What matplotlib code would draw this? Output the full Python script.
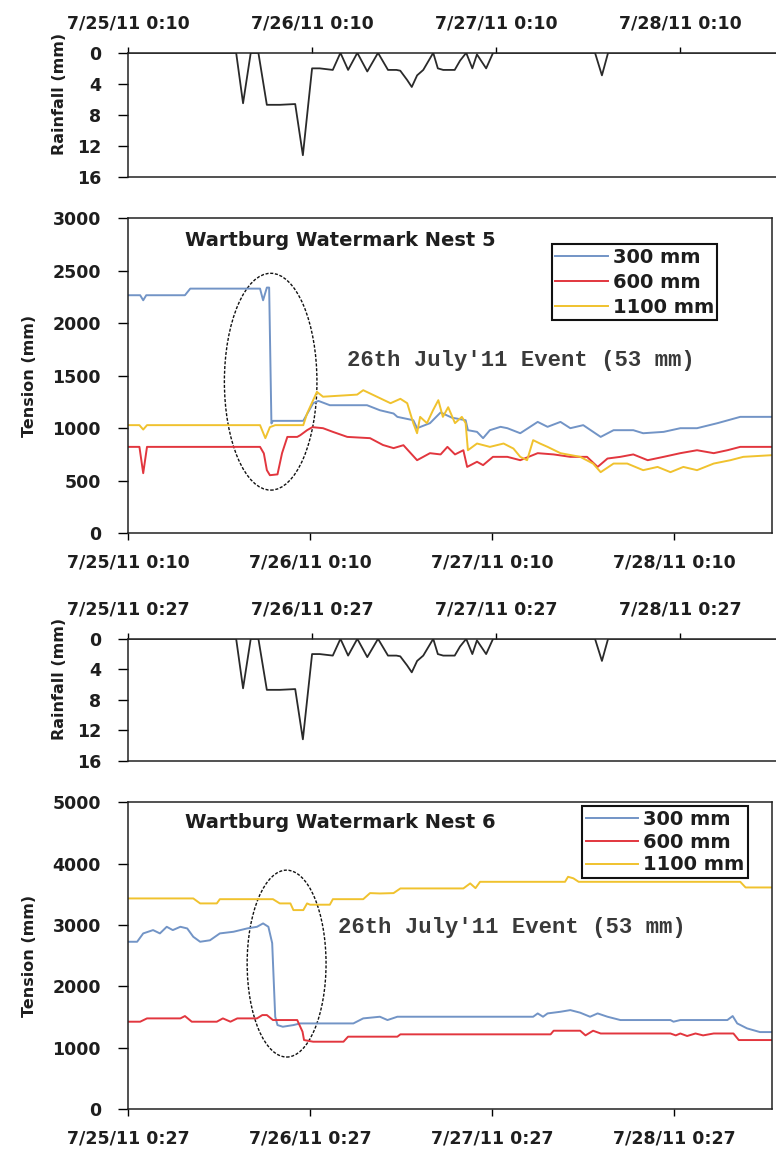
import matplotlib
matplotlib.use("Agg")
import matplotlib.pyplot as plt
from matplotlib.patches import Ellipse

# ---------------- data ----------------
# time axis: hours after the first logged reading of each nest
day_ticks = [0, 24, 48, 72]
labels_n5 = ["7/25/11 0:10", "7/26/11 0:10", "7/27/11 0:10", "7/28/11 0:10"]
labels_n6 = ["7/25/11 0:27", "7/26/11 0:27", "7/27/11 0:27", "7/28/11 0:27"]

# rainfall (mm), plotted downward
rain_t = [0.0, 14.1, 15.0, 16.0, 17.0, 18.1, 19.8, 21.8, 22.8, 24.0, 25.0, 26.7,
          27.7, 28.7, 29.9, 31.2, 32.6, 33.9, 35.0, 35.5, 36.4, 37.0, 37.7, 38.5,
          39.8, 40.4, 41.1, 42.6, 43.3, 44.1, 44.9, 45.5, 46.7, 47.6, 60.9, 61.8,
          62.6, 84.5]
rain_mm = [0, 0, 6.5, 0, 0, 6.7, 6.7, 6.6, 13.2, 2.0, 2.0, 2.2,
           0, 2.2, 0, 2.4, 0, 2.2, 2.2, 2.3, 3.5, 4.4, 2.9, 2.2,
           0, 2.0, 2.2, 2.2, 1.0, 0, 2.0, 0.2, 2.0, 0, 0, 2.9,
           0, 0]

# Nest 5 tension (mm)
n5_300_t = [0.0, 1.6, 2.0, 2.4, 7.5, 8.2, 17.4, 17.8, 18.3, 18.6, 18.9, 19.1, 23.1,
            24.4, 25.1, 26.6, 31.5, 33.2, 35.0, 35.5, 37.6, 38.1, 39.8, 41.2, 42.7,
            44.5, 44.8, 46.0, 46.8, 47.7, 49.1, 50.0, 51.7, 54.0, 55.3, 57.0, 58.3,
            60.0, 62.3, 64.0, 66.6, 67.9, 70.6, 72.8, 75.0, 77.7, 80.7, 84.9]
n5_300_v = [2267, 2267, 2219, 2267, 2267, 2330, 2330, 2219, 2340, 2340, 1045, 1070, 1070,
            1238, 1260, 1219, 1219, 1171, 1140, 1108, 1076, 1000, 1048, 1150, 1100,
            1076, 981, 965, 905, 981, 1013, 1000, 952, 1060, 1013, 1060, 1000,
            1029, 917, 981, 981, 952, 965, 1000, 1000, 1048, 1108, 1108]

n5_600_t = [0.0, 1.5, 2.0, 2.5, 17.4, 17.9, 18.3, 18.7, 19.7, 20.3, 21.0, 22.3, 22.7,
            23.6, 24.3, 25.7, 27.0, 28.9, 31.9, 33.6, 35.0, 36.3, 38.1, 39.8, 41.2,
            42.1, 43.1, 44.2, 44.7, 46.0, 46.8, 48.1, 50.0, 51.7, 54.0, 56.1, 58.3,
            60.5, 61.9, 63.2, 64.9, 66.6, 68.5, 70.6, 72.8, 75.0, 77.2, 79.0, 80.7, 84.9]
n5_600_v = [822, 822, 571, 822, 822, 760, 600, 552, 560, 762, 917, 917, 933,
            981, 1010, 1000, 965, 917, 905, 840, 810, 838, 695, 762, 750,
            822, 750, 790, 631, 680, 648, 727, 727, 695, 762, 750, 727,
            727, 631, 711, 727, 750, 695, 727, 762, 790, 762, 790, 822, 822]

n5_1100_t = [0.0, 1.5, 2.0, 2.5, 17.4, 18.1, 18.7, 19.4, 23.1, 23.6, 24.3, 24.9, 25.7,
             30.2, 31.0, 32.8, 34.6, 35.9, 36.8, 37.6, 38.1, 38.5, 39.4, 40.2, 40.9,
             41.5, 42.2, 43.1, 44.0, 44.5, 44.8, 46.0, 47.7, 49.5, 50.8, 51.7, 52.6,
             53.4, 54.3, 55.3, 57.0, 59.6, 61.3, 62.3, 64.0, 65.8, 67.9, 69.8, 71.5,
             73.2, 75.0, 77.2, 79.4, 81.1, 84.9]
n5_1100_v = [1029, 1029, 987, 1029, 1029, 905, 1010, 1029, 1029, 1140, 1251, 1346, 1300,
             1320, 1362, 1300, 1238, 1280, 1238, 1048, 952, 1108, 1048, 1171, 1267,
             1108, 1200, 1048, 1108, 1048, 790, 854, 822, 854, 806, 727, 695,
             886, 854, 822, 762, 727, 663, 581, 663, 663, 600, 631, 581,
             631, 600, 663, 695, 727, 743]

# Nest 6 tension (mm)
n6_300_t = [0.0, 1.2, 2.0, 3.3, 4.2, 5.1, 5.9, 6.9, 7.8, 8.6, 9.5, 10.8, 12.1, 13.9,
            15.7, 17.0, 17.8, 18.5, 19.0, 19.4, 19.7, 20.4, 21.8, 22.7, 29.7, 31.0,
            33.2, 34.2, 35.5, 53.4, 54.0, 54.7, 55.3, 57.0, 58.3, 59.6, 60.9, 61.9,
            63.2, 64.9, 71.5, 71.9, 72.8, 79.0, 79.7, 80.3, 81.6, 83.3, 84.9]
n6_300_v = [2726, 2726, 2862, 2916, 2862, 2970, 2916, 2970, 2943, 2807, 2726, 2750, 2862, 2889,
            2943, 2970, 3025, 2970, 2704, 1504, 1368, 1341, 1368, 1395, 1395, 1477,
            1504, 1450, 1504, 1504, 1558, 1504, 1558, 1585, 1612, 1570, 1504, 1558,
            1504, 1450, 1450, 1423, 1450, 1450, 1515, 1395, 1314, 1254, 1254]

n6_600_t = [0.0, 1.6, 2.5, 6.9, 7.5, 8.4, 11.7, 12.5, 13.5, 14.4, 17.0, 17.7, 18.3,
            19.1, 22.3, 23.0, 23.2, 24.4, 28.4, 29.0, 35.5, 35.9, 55.7, 56.1, 59.6,
            60.3, 61.3, 62.3, 71.5, 72.2, 72.8, 73.7, 74.8, 75.8, 77.2, 79.8, 80.5, 84.9]
n6_600_v = [1423, 1423, 1477, 1477, 1515, 1423, 1423, 1477, 1423, 1477, 1477, 1531, 1531,
            1450, 1450, 1260, 1124, 1097, 1097, 1179, 1179, 1217, 1217, 1276, 1276,
            1200, 1276, 1231, 1231, 1200, 1231, 1190, 1231, 1200, 1231, 1231, 1124, 1124]

n6_1100_t = [0.0, 8.6, 9.5, 11.7, 12.1, 19.1, 20.0, 21.4, 21.8, 23.1, 23.6, 24.0, 26.6,
             27.0, 31.0, 31.9, 33.2, 35.0, 35.9, 44.2, 45.1, 45.8, 46.4, 57.6, 58.0,
             58.7, 59.4, 80.7, 81.4, 84.9]
n6_1100_v = [3432, 3432, 3351, 3351, 3420, 3420, 3351, 3351, 3242, 3242, 3351, 3330, 3330,
             3420, 3420, 3519, 3513, 3519, 3595, 3595, 3677, 3600, 3703, 3703, 3785,
             3760, 3703, 3703, 3611, 3611]

depth_labels = ["300 mm", "600 mm", "1100 mm"]
depth_colors = ["#7294c6", "#e2363e", "#f0c22e"]

event_text = "26th July'11 Event (53 mm)"

# ---------------- figure ----------------
FONT = "DejaVu Sans"
plt.rcParams["font.family"] = [FONT]
TXT = "#1e1e1e"
TICK_FS = 12.5

fig = plt.figure(figsize=(7.76, 11.49), dpi=100)


def rain_panel(rect, labels):
    ax = fig.add_axes(rect)
    ax.plot(rain_t, rain_mm, color="#2a2a2a", lw=1.3)
    ax.set_ylim(16, 0)
    ax.set_xlim(0, 84.5)
    ax.set_yticks([0, 4, 8, 12, 16])
    ax.set_xticks(day_ticks)
    ax.set_xticklabels(labels)
    ax.xaxis.tick_top()
    ax.spines["right"].set_visible(False)
    for s in ("top", "bottom", "left"):
        ax.spines[s].set_linewidth(1.1)
        ax.spines[s].set_color("#222222")
    ax.tick_params(axis="x", which="both", top=True, bottom=False, direction="out",
                   length=4.5, width=1.0, pad=10, labelsize=TICK_FS, labelcolor=TXT)
    ax.tick_params(axis="y", direction="out", length=7, width=1.0, pad=12.5,
                   labelsize=TICK_FS, labelcolor=TXT)
    for t in ax.get_xticklabels() + ax.get_yticklabels():
        t.set_fontweight("bold")
    ax.set_ylabel("Rainfall (mm)", fontsize=11.5, fontweight="bold", color=TXT)
    ax.yaxis.set_label_coords(-0.094, 0.67)
    return ax


def tension_panel(rect, labels, series, ymax, ystep, title, ell, event_xy, leg_xy,
                  leg_spacing):
    ax = fig.add_axes(rect)
    for (t, v), lab, col in zip(series, depth_labels, depth_colors):
        ax.plot(t, v, color=col, lw=1.4, label=lab)
    ax.set_xlim(0, 84.9)
    ax.set_ylim(0, ymax)
    ax.set_yticks(list(range(0, ymax + 1, ystep)))
    ax.set_xticks(day_ticks)
    ax.set_xticklabels(labels)
    for s in ax.spines.values():
        s.set_linewidth(1.1)
        s.set_color("#222222")
    ax.tick_params(axis="x", direction="out", length=5, width=1.0, pad=10,
                   labelsize=TICK_FS, labelcolor=TXT)
    ax.tick_params(axis="y", direction="out", length=7, width=1.0, pad=12.5,
                   labelsize=TICK_FS, labelcolor=TXT)
    for t in ax.get_xticklabels() + ax.get_yticklabels():
        t.set_fontweight("bold")
    ax.set_ylabel("Tension (mm)", fontsize=11.5, fontweight="bold", color=TXT)
    ax.yaxis.set_label_coords(-0.141, 0.5)

    ax.text(0.0885, title[1], title[0], transform=ax.transAxes, fontsize=14,
            fontweight="bold", color=TXT, ha="left", va="center")
    ax.text(event_xy[0], event_xy[1], event_text, transform=ax.transAxes,
            fontsize=16, family=["Liberation Mono", "DejaVu Sans Mono"],
            fontweight="bold", color="#3a3a3a", ha="left", va="center")

    ax.add_patch(Ellipse((ell[0], ell[1]), ell[2], ell[3], fill=False,
                         edgecolor="#111111", lw=1.0, linestyle=(0, (2.2, 1.2))))

    leg = ax.legend(loc="upper left", bbox_to_anchor=leg_xy, frameon=True,
                    fancybox=False, edgecolor="#111111", framealpha=1,
                    prop={"family": FONT, "weight": "bold", "size": 14},
                    handlelength=2.7, handletextpad=0.25, labelspacing=leg_spacing,
                    borderpad=0.18, borderaxespad=0)
    leg.get_frame().set_linewidth(1.5)
    for txt in leg.get_texts():
        txt.set_color(TXT)
    return ax


rain_panel([0.165, 0.846, 0.835, 0.108], labels_n5)
tension_panel([0.165, 0.536, 0.830, 0.274], labels_n5,
              [(n5_300_t, n5_300_v), (n5_600_t, n5_600_v), (n5_1100_t, n5_1100_v)],
              3000, 500, ("Wartburg Watermark Nest 5", 0.930),
              (18.8, 1443, 12.2, 2066), (0.340, 0.549), (0.658, 0.917), 0.3)

rain_panel([0.165, 0.338, 0.835, 0.106], labels_n6)
tension_panel([0.165, 0.0348, 0.830, 0.267], labels_n6,
              [(n6_300_t, n6_300_v), (n6_600_t, n6_600_v), (n6_1100_t, n6_1100_v)],
              5000, 1000, ("Wartburg Watermark Nest 6", 0.935),
              (20.9, 2370, 10.4, 3046), (0.326, 0.593), (0.705, 0.987), 0.2)

fig.savefig("out.png", dpi=100)
